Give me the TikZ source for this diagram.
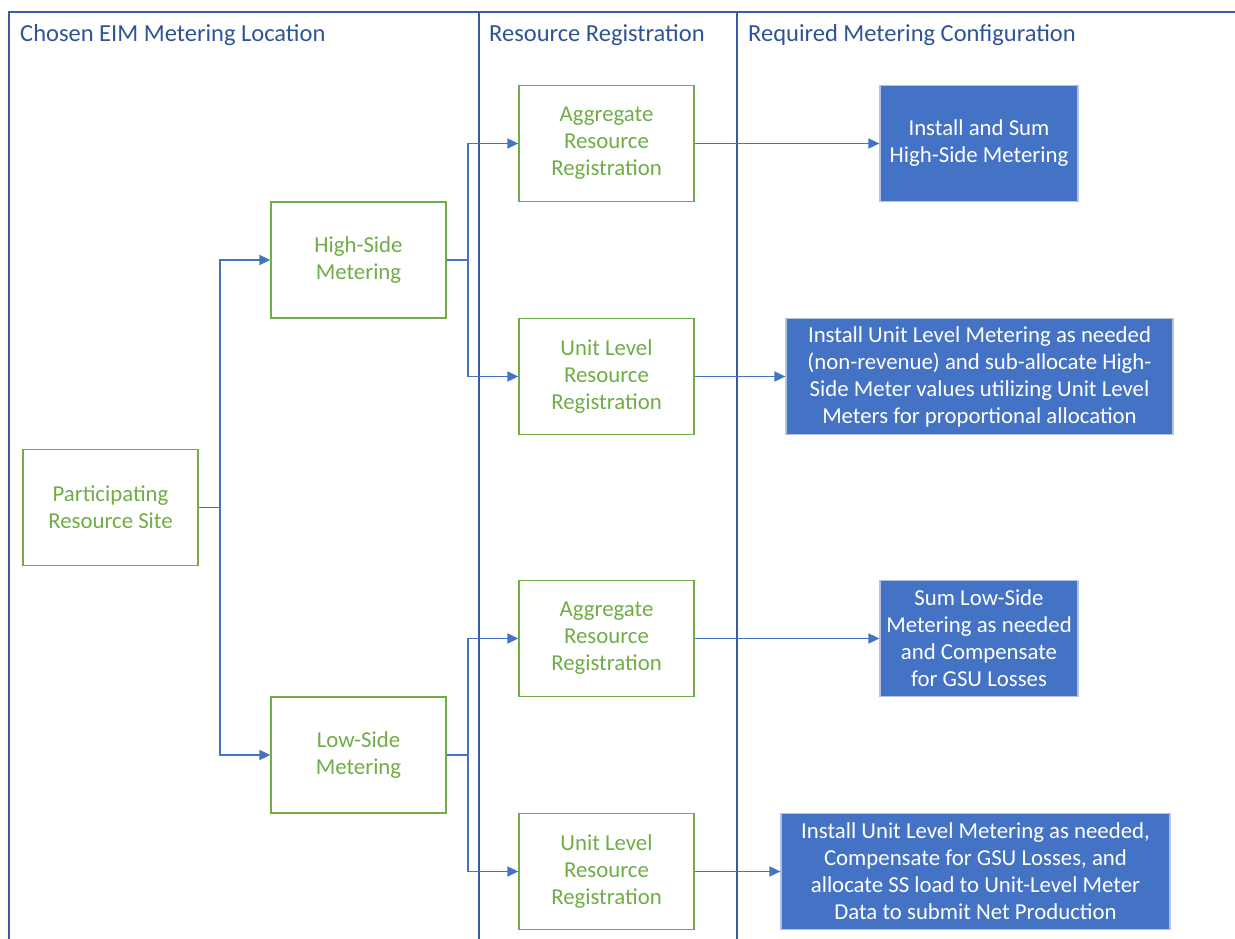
\documentclass[tikz,border=0pt]{standalone}
\usepackage{fontspec}
\setmainfont{Carlito}
\usetikzlibrary{arrows.meta}
\definecolor{frameblue}{HTML}{3A5BA8}
\definecolor{headblue}{HTML}{2F5496}
\definecolor{linkblue}{HTML}{4472C4}
\definecolor{boxgreen}{HTML}{70AD47}
\definecolor{fillblue}{HTML}{4472C4}
\definecolor{edgegray}{HTML}{B4C2E0}
\begin{document}
\begin{tikzpicture}[x=1pt,y=-1pt,
  frame/.style={draw=frameblue,line width=1.3pt},
  header/.style={anchor=west,text=headblue,font=\fontsize{24.5}{28}\selectfont,inner sep=0pt},
  gbox/.style={draw=boxgreen,line width=1.3pt,fill=white,text=boxgreen,
    minimum width=175pt,minimum height=116pt,align=center,
    font=\fontsize{22.8}{27}\selectfont,inner sep=0pt},
  bbox/.style={draw=edgegray,line width=1.2pt,fill=fillblue,text=white,
    align=center,font=\fontsize{22.8}{27}\selectfont,inner sep=0pt},
  link/.style={draw=linkblue,line width=1.6pt},
  arr/.style={link,-{Triangle[length=11pt,width=10pt]}}]
\useasboundingbox (0,0) rectangle (1235,939);
% frame
\draw[frame] (1235,12) -- (9,12) -- (9,939);
\draw[frame] (479,12) -- (479,939);
\draw[frame] (737,12) -- (737,939);
\node[header] (h1) at (20,35) {Chosen EIM Metering Location};
\node[header] (h2) at (489,35) {Resource Registration};
\node[header] (h3) at (748,35) {Required Metering Configuration};
% green boxes
\node[gbox] (prs) at (110.5,507.5) {Participating\\Resource Site};
\node[gbox] (hsm) at (358.5,260) {High-Side\\Metering};
\node[gbox] (lsm) at (358.5,755) {Low-Side\\Metering};
\node[gbox] (agg1) at (606.5,143.5) {Aggregate\\Resource\\Registration};
\node[gbox] (unit1) at (606.5,376.5) {Unit Level\\Resource\\Registration};
\node[gbox] (agg2) at (606.5,638.5) {Aggregate\\Resource\\Registration};
\node[gbox] (unit2) at (606.5,871.5) {Unit Level\\Resource\\Registration};
% blue boxes
\node[bbox,minimum width=198pt,minimum height=116pt] (c1) at (979,143.5) {Install and Sum\\High-Side Metering};
\node[bbox,minimum width=387pt,minimum height=116pt] (c2) at (979.5,376.5) {Install Unit Level Metering as needed\\(non-revenue) and sub-allocate High-\\Side Meter values utilizing Unit Level\\Meters for proportional allocation};
\node[bbox,minimum width=198pt,minimum height=116pt] (c3) at (979,638.5) {Sum Low-Side\\Metering as needed\\and Compensate\\for GSU Losses};
\node[bbox,minimum width=389pt,minimum height=116pt] (c4) at (975.5,871.5) {Install Unit Level Metering as needed,\\Compensate for GSU Losses, and\\allocate SS load to Unit-Level Meter\\Data to submit Net Production};
% connectors
\draw[link] (prs.east) -- (220,507.5) coordinate (j1);
\draw[arr] (j1) |- (hsm.west);
\draw[arr] (j1) |- (lsm.west);
\draw[link] (hsm.east) -- (468,260) coordinate (j2);
\draw[arr] (j2) |- (agg1.west);
\draw[arr] (j2) |- (unit1.west);
\draw[link] (lsm.east) -- (468,755) coordinate (j3);
\draw[arr] (j3) |- (agg2.west);
\draw[arr] (j3) |- (unit2.west);
\draw[arr] (agg1.east) -- (c1.west);
\draw[arr] (unit1.east) -- (c2.west);
\draw[arr] (agg2.east) -- (c3.west);
\draw[arr] (unit2.east) -- (c4.west);
\end{tikzpicture}
\end{document}
